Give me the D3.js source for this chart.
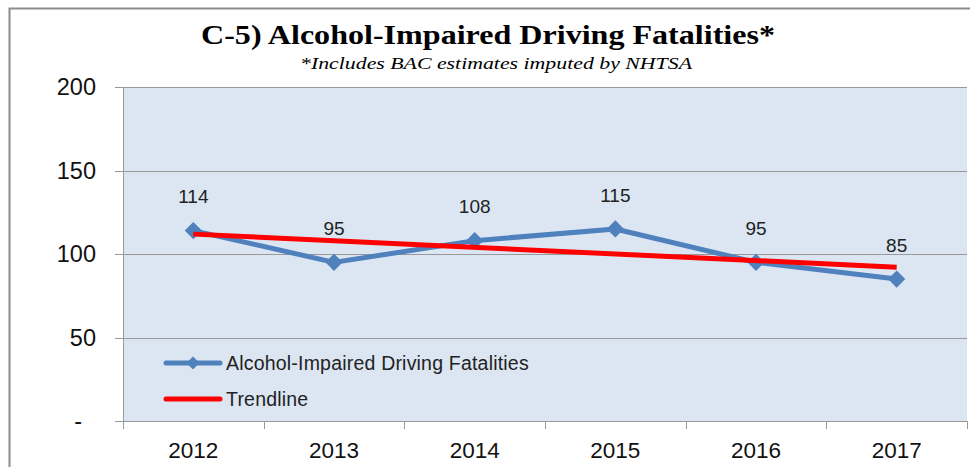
<!DOCTYPE html>
<html>
<head>
<meta charset="utf-8">
<script src="https://cdn.jsdelivr.net/npm/d3@7"></script>
<style>
  body { margin: 0; background: #fff; }
</style>
</head>
<body>
<div id="chart"></div>
<script>
const years = ["2012", "2013", "2014", "2015", "2016", "2017"];
const fatalities = [114, 95, 108, 115, 95, 85];
// trendline end points (2012 and 2017)
const trendYears = ["2012", "2017"];
const trendValues = [111.9, 92.1];
const yTicks = [0, 50, 100, 150, 200];

const width = 970;
const height = 467;
const plot = { left: 123, right: 967, top: 87, bottom: 421 };

const svg = d3.select("#chart").append("svg")
    .attr("width", width)
    .attr("height", height);

// outer chart border
svg.append("path")
    .attr("d", `M9.5,${height} V8.5 H${width}`)
    .attr("fill", "none")
    .attr("stroke", "#8c8c8c")
    .attr("stroke-width", 2);

const xScaler = d3.scaleBand()
    .domain(years)
    .range([plot.left, plot.right]);

const yScaler = d3.scaleLinear()
    .domain([0, 200])
    .range([plot.bottom, plot.top]);

const xCenter = d => xScaler(d) + xScaler.bandwidth() / 2;

// plot area
svg.append("rect")
    .attr("x", plot.left)
    .attr("y", plot.top)
    .attr("width", plot.right - plot.left)
    .attr("height", plot.bottom - plot.top)
    .attr("fill", "#dce6f2");

// gridlines
svg.append("g")
    .selectAll("line")
    .data(yTicks)
    .join("line")
    .attr("x1", plot.left - 8)
    .attr("x2", plot.right)
    .attr("y1", d => Math.round(yScaler(d)) + 0.5)
    .attr("y2", d => Math.round(yScaler(d)) + 0.5)
    .attr("stroke", "#9a9a9a")
    .attr("stroke-width", 1);

// y axis line
svg.append("line")
    .attr("x1", plot.left + 0.5)
    .attr("x2", plot.left + 0.5)
    .attr("y1", plot.top)
    .attr("y2", plot.bottom)
    .attr("stroke", "#9a9a9a");

// y labels
svg.append("g")
    .selectAll("text")
    .data(yTicks)
    .join("text")
    .attr("x", d => d === 0 ? 82 : 96)
    .attr("y", d => yScaler(d))
    .attr("dy", "0.35em")
    .attr("text-anchor", "end")
    .attr("font-family", "Liberation Sans, Arial, sans-serif")
    .attr("font-size", "23.5px")
    .attr("fill", "#111")
    .text(d => d === 0 ? "-" : d);

// x axis
const xAxisGen = d3.axisBottom(xScaler).tickSize(0).tickPadding(0);
const xAxis = svg.append("g")
    .attr("transform", `translate(0,${plot.bottom})`)
    .call(xAxisGen);
xAxis.select(".domain").remove();
xAxis.selectAll("text")
    .attr("y", 29)
    .attr("dy", "0.35em")
    .attr("font-family", "Liberation Sans, Arial, sans-serif")
    .attr("font-size", "22.5px")
    .attr("fill", "#111");

// x tick marks at band edges
const edges = years.map(d => xScaler(d)).concat([plot.right]);
svg.append("g")
    .selectAll("line")
    .data(edges)
    .join("line")
    .attr("x1", d => Math.round(d) + 0.5)
    .attr("x2", d => Math.round(d) + 0.5)
    .attr("y1", plot.bottom)
    .attr("y2", plot.bottom + 8)
    .attr("stroke", "#9a9a9a");

svg.append("line")
    .attr("x1", plot.left)
    .attr("x2", plot.right)
    .attr("y1", plot.bottom + 0.5)
    .attr("y2", plot.bottom + 0.5)
    .attr("stroke", "#9a9a9a");

// data line
const lineGen = d3.line()
    .x((d, i) => xCenter(years[i]))
    .y(d => yScaler(d));

svg.append("path")
    .datum(fatalities)
    .attr("d", lineGen)
    .attr("fill", "none")
    .attr("stroke", "#4f81bd")
    .attr("stroke-width", 5)
    .attr("stroke-linejoin", "round");

const diamond = d3.symbol().type(d3.symbolDiamond2).size(190);

svg.append("g")
    .selectAll("path")
    .data(fatalities)
    .join("path")
    .attr("d", diamond)
    .attr("transform", (d, i) => `translate(${xCenter(years[i])},${yScaler(d)})`)
    .attr("fill", "#4f81bd");

// trendline
svg.append("path")
    .datum(trendValues)
    .attr("d", d3.line()
        .x((d, i) => xCenter(trendYears[i]))
        .y(d => yScaler(d)))
    .attr("fill", "none")
    .attr("stroke", "#ff0000")
    .attr("stroke-width", 5);

// value labels
svg.append("g")
    .selectAll("text")
    .data(fatalities)
    .join("text")
    .attr("x", (d, i) => xCenter(years[i]))
    .attr("y", d => yScaler(d) - 34)
    .attr("dy", "0.35em")
    .attr("text-anchor", "middle")
    .attr("font-family", "Liberation Sans, Arial, sans-serif")
    .attr("font-size", "19px")
    .attr("fill", "#222")
    .text(d => d);

// legend
const legend = svg.append("g");
const legendItems = [
    { label: "Alcohol-Impaired Driving Fatalities", color: "#4f81bd", marker: true, y: 363 },
    { label: "Trendline", color: "#ff0000", marker: false, y: 399 }
];
legendItems.forEach(item => {
    legend.append("line")
        .attr("x1", 166)
        .attr("x2", 220)
        .attr("y1", item.y)
        .attr("y2", item.y)
        .attr("stroke", item.color)
        .attr("stroke-width", 5)
        .attr("stroke-linecap", "round");
    if (item.marker) {
        legend.append("path")
            .attr("d", d3.symbol().type(d3.symbolDiamond2).size(110))
            .attr("transform", `translate(193,${item.y})`)
            .attr("fill", item.color);
    }
    legend.append("text")
        .attr("x", 226)
        .attr("y", item.y)
        .attr("dy", "0.35em")
        .attr("font-family", "Liberation Sans, Arial, sans-serif")
        .attr("font-size", "19.5px")
        .attr("letter-spacing", "0.2px")
        .attr("fill", "#222")
        .text(item.label);
});

// titles
svg.append("text")
    .attr("x", 488)
    .attr("y", 44)
    .attr("text-anchor", "middle")
    .attr("font-family", "Liberation Serif, Times New Roman, serif")
    .attr("font-weight", "bold")
    .attr("font-size", "28px")
    .attr("textLength", 574)
    .attr("lengthAdjust", "spacingAndGlyphs")
    .attr("fill", "#000")
    .text("C-5) Alcohol-Impaired Driving Fatalities*");

svg.append("text")
    .attr("x", 496)
    .attr("y", 69)
    .attr("text-anchor", "middle")
    .attr("font-family", "Liberation Serif, Times New Roman, serif")
    .attr("font-style", "italic")
    .attr("font-size", "17px")
    .attr("textLength", 392)
    .attr("lengthAdjust", "spacingAndGlyphs")
    .attr("fill", "#000")
    .text("*Includes BAC estimates imputed by NHTSA");
</script>
</body>
</html>
